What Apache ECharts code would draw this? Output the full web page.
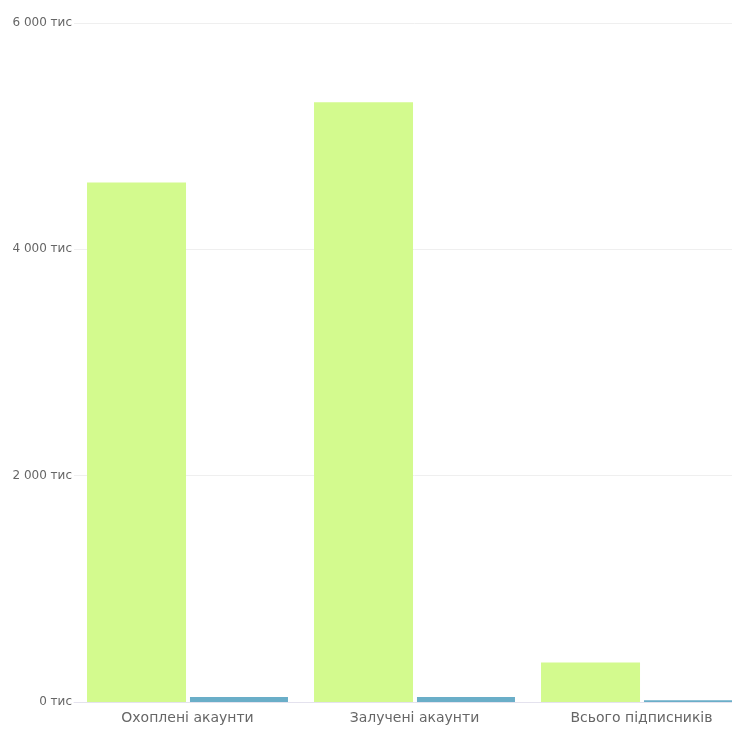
<!DOCTYPE html>
<html>
<head>
<meta charset="utf-8">
<script src="https://cdn.jsdelivr.net/npm/echarts@6/dist/echarts.min.js"></script>
<style>
  html, body { margin: 0; padding: 0; background: #ffffff; overflow: hidden; }
  #chart { width: 755px; height: 731px; }
</style>
</head>
<body>
<div id="chart"></div>
<script>
// Account metrics, in thousands
const categories = ['Охоплені акаунти', 'Залучені акаунти', 'Всього підписників'];
const currentValues = [4590, 5300, 350];
const previousValues = [45, 45, 15];
const yTicks = [0, 2000, 4000, 6000];

function formatThousands(v) {
  return String(v).replace(/\B(?=(\d{3})+(?!\d))/g, ' ') + ' тис';
}

const chart = echarts.init(document.getElementById('chart'), null, { renderer: 'canvas' });
chart.setOption({
  animation: false,
  backgroundColor: '#ffffff',
  textStyle: { fontFamily: 'DejaVu Sans, sans-serif' },
  grid: { left: 74, right: 0, top: 23, bottom: 29, containLabel: false },
  xAxis: {
    type: 'category',
    data: categories,
    axisLine: { show: true, lineStyle: { color: '#e4e2ee', width: 1 } },
    axisTick: { show: false },
    axisLabel: { color: '#666666', fontSize: 14, margin: 9 }
  },
  yAxis: {
    type: 'value',
    min: yTicks[0],
    max: yTicks[yTicks.length - 1],
    interval: yTicks[1] - yTicks[0],
    axisLine: { show: false },
    axisTick: { show: false },
    splitLine: { lineStyle: { color: '#efefef', width: 1 } },
    axisLabel: { color: '#666666', fontSize: 12, margin: 2, formatter: formatThousands }
  },
  series: [
    {
      type: 'bar',
      data: currentValues,
      barWidth: 99,
      barGap: '4%',
      itemStyle: { color: '#d3fa8e' }
    },
    {
      type: 'bar',
      data: previousValues,
      barWidth: 98,
      itemStyle: { color: '#6aaec8' }
    }
  ]
});
</script>
</body>
</html>
